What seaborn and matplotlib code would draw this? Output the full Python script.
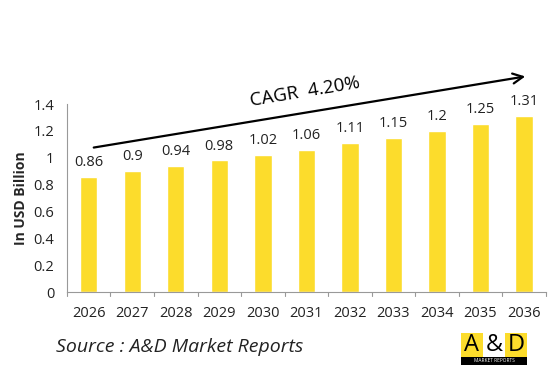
import matplotlib
matplotlib.use("Agg")
import matplotlib.pyplot as plt
import matplotlib.patches as mpatches
import seaborn as sns
import pandas as pd

years = ["2026", "2027", "2028", "2029", "2030", "2031", "2032", "2033", "2034", "2035", "2036"]
values = [0.86, 0.9, 0.94, 0.98, 1.02, 1.06, 1.11, 1.15, 1.2, 1.25, 1.31]
value_labels = ["0.86", "0.9", "0.94", "0.98", "1.02", "1.06", "1.11", "1.15", "1.2", "1.25", "1.31"]
yticks = [0, 0.2, 0.4, 0.6, 0.8, 1, 1.2, 1.4]
ytick_labels = ["0", "0.2", "0.4", "0.6", "0.8", "1", "1.2", "1.4"]

sns.set_style("white")
plt.rcParams["font.family"] = ["Open Sans", "DejaVu Sans"]

df = pd.DataFrame({"year": years, "value": values})
bar_color = "#FCDC2C"

fig = plt.figure(figsize=(5.58, 3.91), dpi=100)
ax = fig.add_axes([0.120, 0.253, 0.858, 0.481])
sns.barplot(data=df, x="year", y="value", color=bar_color, width=0.4,
            saturation=1, ax=ax)

ax.set_ylim(0, 1.4)
ax.set_xlim(-0.5, len(years) - 0.5)
ax.set_yticks(yticks)
ax.set_yticklabels(ytick_labels)
ax.set_xlabel("")
ax.set_ylabel("In USD Billion", fontsize=10, fontweight="bold", labelpad=4)
ax.tick_params(axis="x", labelsize=10.5, colors="#222222", length=0, pad=10)
ax.tick_params(axis="y", labelsize=10.5, labelcolor="#222222", length=4,
               direction="out", color="#888888", pad=5)

for s in ["top", "right"]:
    ax.spines[s].set_visible(False)
for s in ["left", "bottom"]:
    ax.spines[s].set_color("#999999")
    ax.spines[s].set_linewidth(0.8)

# category separators on the x axis
for i in range(len(years) + 1):
    ax.plot([i - 0.5, i - 0.5], [0, -0.03], color="#999999", lw=0.8, clip_on=False)

for i, (v, lab) in enumerate(zip(values, value_labels)):
    ax.text(i, v + 0.05, lab, ha="center", va="bottom", fontsize=10.5, color="#222222")

# CAGR arrow
fig.patches.append(mpatches.FancyArrowPatch(
    (91 / 558, 1 - 148 / 391), (528 / 558, 1 - 76 / 391),
    transform=fig.transFigure, arrowstyle="->", mutation_scale=18,
    lw=1.6, color="black"))
fig.text(305 / 558, 1 - 92 / 391, "CAGR  4.20%", fontsize=13.5, rotation=9.5,
         ha="center", va="center", color="black")

fig.text(56 / 558, 1 - 347 / 391, "Source : A&D Market Reports", fontsize=14,
         style="italic", ha="left", va="center", color="#222222")

# logo
lx, ly, lw, lh = 461 / 558, 1 - 357 / 391, 66 / 558, 24 / 391
seg = lw / 3
for k, ch in enumerate(["A", "&", "D"]):
    fc = bar_color if k != 1 else "white"
    fig.patches.append(mpatches.Rectangle((lx + k * seg, ly), seg, lh,
                                          transform=fig.transFigure, fc=fc, ec="none"))
    fig.text(lx + (k + 0.5) * seg, ly + lh / 2, ch, fontsize=17, ha="center",
             va="center", color="black")
fig.patches.append(mpatches.Rectangle((lx, ly - 8 / 391), lw, 8 / 391,
                                      transform=fig.transFigure, fc="black", ec="none"))
fig.text(lx + lw / 2, ly - 4 / 391, "MARKET REPORTS", fontsize=3.5, ha="center",
         va="center", color="white")

fig.savefig("out.png", dpi=100)
